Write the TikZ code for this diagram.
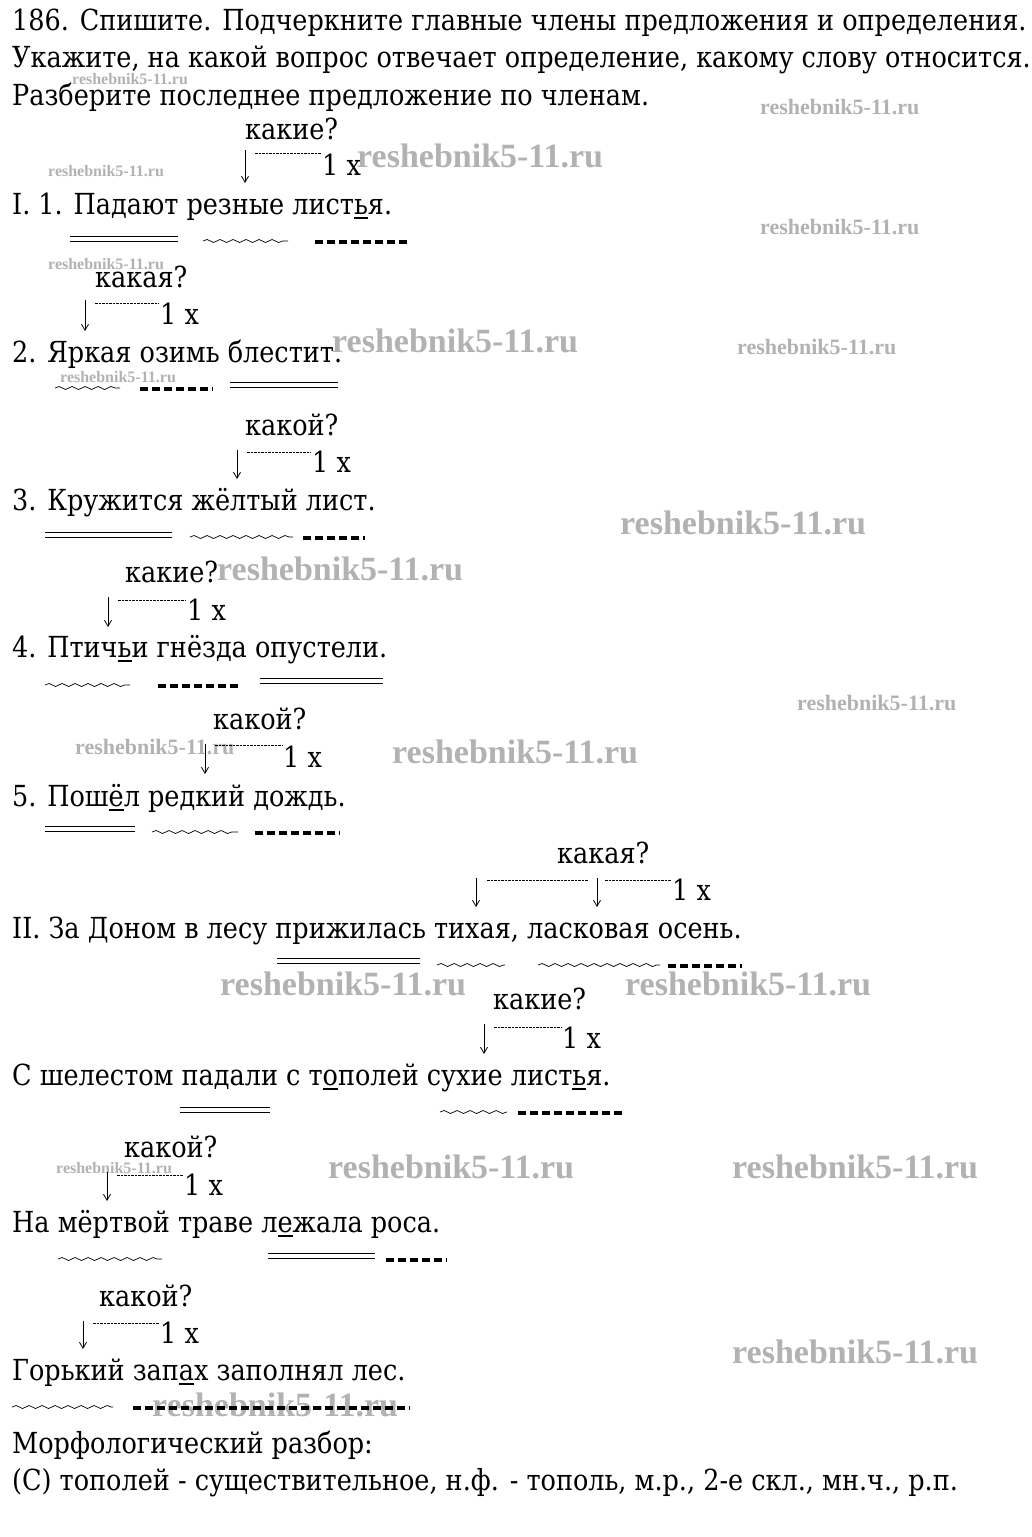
\documentclass[tikz,border=0pt]{standalone}
\usepackage{fontspec}
\setmainfont{DejaVu Serif}[FakeStretch=0.88]
\newfontfamily\wmfont{Liberation Serif}
\usetikzlibrary{decorations.pathmorphing,arrows.meta}
\newcommand\uu[1]{\setbox0\hbox{#1}\rlap{\raisebox{-5pt}{\rule{\wd0}{1.8pt}}}\box0}
\newcommand\mainsz{\fontsize{29}{35}\selectfont}
\tikzset{
  txt/.style={anchor=base west, inner sep=0pt, font=\mainsz},
  dbl/.style={double, double distance=4.5pt, line width=0.7pt},
  wavy/.style={decorate, decoration={snake, segment length=13pt, amplitude=1.5pt}, line width=0.7pt},
  bdash/.style={line width=3.2pt, dash pattern=on 8pt off 4pt},
  tdash/.style={line width=0.7pt, dash pattern=on 2.5pt off 1pt},
  arr/.style={-{Straight Barb[length=6pt,width=7pt]}, line width=0.8pt},
  wmbig/.style={anchor=base west, inner sep=0pt, text=gray!60, font=\wmfont\fontsize{34}{40}\selectfont\bfseries},
  wmsmall/.style={anchor=base west, inner sep=0pt, text=gray!60, font=\wmfont\fontsize{22}{26}\selectfont\bfseries},
  wmtiny/.style={anchor=base west, inner sep=0pt, text=gray!60, font=\wmfont\fontsize{16}{19}\selectfont\bfseries}
}
\begin{document}
\begin{tikzpicture}[x=1pt,y=-1pt]
\useasboundingbox[fill=white] (0,0) rectangle (1032,1537);
% watermarks
\foreach \i/\x/\y in {a/357/167, b/332/352, c/620/534, d/217/580, e/392/763, f/220/995, g/625/995, h/328/1178, k/732/1178, l/732/1363, m/152/1416}
  \node[wmbig] (wb\i) at (\x,\y) {reshebnik5-11.ru};
\foreach \i/\x/\y in {a/760/114, b/760/234, c/737/354, d/797/710, e/75/754}
  \node[wmsmall] (ws\i) at (\x,\y) {reshebnik5-11.ru};
\foreach \i/\x/\y in {a/72/84, b/48/176, c/48/269, d/60/382, e/56/1173}
  \node[wmtiny] (wt\i) at (\x,\y) {reshebnik5-11.ru};
% header
\node[txt] (h1) at (12,30) {186. Спишите. Подчеркните главные члены предложения и определения.};
\node[txt] (h2) at (12,67) {Укажите, на какой вопрос отвечает определение, какому слову относится.};
\node[txt] (h3) at (12,105) {Разберите последнее предложение по членам.};
% sentence 1
\node[txt] (q1) at (245,139) {какие?};
\coordinate (a1t) at (245,150); \coordinate (a1b) at (245,183);
\draw[arr] (a1t) -- (a1b);
\node[txt] (n1) at (322,175) {1 x};
\coordinate (d1s) at (255,153); \coordinate (d1e) at (321,153);
\draw[tdash] (d1s) -- (d1e);
\node[txt] (s1) at (12,214) {I. 1. Падают резные лист\uu{ь}я.};
\draw[dbl] (70,239) -- (178,239);
\draw[wavy] (203,241) -- (288,241);
\draw[bdash] (315,242) -- (407,242);
% sentence 2
\node[txt] (q2) at (95,287) {какая?};
\coordinate (a2t) at (85,300); \coordinate (a2b) at (85,331);
\draw[arr] (a2t) -- (a2b);
\node[txt] (n2) at (160,324) {1 x};
\coordinate (d2s) at (95,303); \coordinate (d2e) at (159,303);
\draw[tdash] (d2s) -- (d2e);
\node[txt] (s2) at (12,362) {2. Яркая озимь блестит.};
\draw[wavy] (55,388) -- (120,388);
\draw[bdash] (140,389) -- (213,389);
\draw[dbl] (230,385) -- (338,385);
% sentence 3
\node[txt] (q3) at (245,435) {какой?};
\coordinate (a3t) at (237,450); \coordinate (a3b) at (237,479);
\draw[arr] (a3t) -- (a3b);
\node[txt] (n3) at (312,472) {1 x};
\coordinate (d3s) at (247,452); \coordinate (d3e) at (311,452);
\draw[tdash] (d3s) -- (d3e);
\node[txt] (s3) at (12,510) {3. Кружится жёлтый лист.};
\draw[dbl] (45,535) -- (172,535);
\draw[wavy] (190,537) -- (293,537);
\draw[bdash] (303,538) -- (365,538);
% sentence 4
\node[txt] (q4) at (125,582) {какие?};
\coordinate (a4t) at (108,597); \coordinate (a4b) at (108,627);
\draw[arr] (a4t) -- (a4b);
\node[txt] (n4) at (187,620) {1 x};
\coordinate (d4s) at (118,600); \coordinate (d4e) at (186,600);
\draw[tdash] (d4s) -- (d4e);
\node[txt] (s4) at (12,657) {4. Птич\uu{ь}и гнёзда опустели.};
\draw[wavy] (45,685) -- (130,685);
\draw[bdash] (158,686) -- (240,686);
\draw[dbl] (260,681) -- (383,681);
% sentence 5
\node[txt] (q5) at (213,729) {какой?};
\coordinate (a5t) at (205,744); \coordinate (a5b) at (205,774);
\draw[arr] (a5t) -- (a5b);
\node[txt] (n5) at (283,767) {1 x};
\coordinate (d5s) at (215,745); \coordinate (d5e) at (282,745);
\draw[tdash] (d5s) -- (d5e);
\node[txt] (s5) at (12,806) {5. Пош\uu{ё}л редкий дождь.};
\draw[dbl] (45,829) -- (135,829);
\draw[wavy] (152,832) -- (238,832);
\draw[bdash] (255,833) -- (340,833);
% II
\node[txt] (q6) at (557,863) {какая?};
\coordinate (a6t) at (476,878); \coordinate (a6b) at (476,907);
\draw[arr] (a6t) -- (a6b);
\coordinate (a7t) at (597,878); \coordinate (a7b) at (597,907);
\draw[arr] (a7t) -- (a7b);
\node[txt] (n6) at (672,900) {1 x};
\coordinate (d6s) at (487,880); \coordinate (d6e) at (588,880);
\draw[tdash] (d6s) -- (d6e);
\coordinate (d7s) at (605,880); \coordinate (d7e) at (671,880);
\draw[tdash] (d7s) -- (d7e);
\node[txt] (s6) at (12,938) {II. За Доном в лесу прижилась тихая, ласковая осень.};
\draw[dbl] (277,961) -- (420,961);
\draw[wavy] (437,965) -- (505,965);
\draw[wavy] (538,965) -- (660,965);
\draw[bdash] (668,966) -- (742,966);
% sentence 7
\node[txt] (q7) at (493,1009) {какие?};
\coordinate (a8t) at (484,1024); \coordinate (a8b) at (484,1054);
\draw[arr] (a8t) -- (a8b);
\node[txt] (n7) at (562,1048) {1 x};
\coordinate (d8s) at (494,1027); \coordinate (d8e) at (561,1027);
\draw[tdash] (d8s) -- (d8e);
\node[txt] (s7) at (12,1085) {С шелестом падали с т\uu{о}полей сухие лист\uu{ь}я.};
\draw[dbl] (180,1110) -- (270,1110);
\draw[wavy] (440,1112) -- (507,1112);
\draw[bdash] (518,1113) -- (622,1113);
% sentence 8
\node[txt] (q8) at (124,1157) {какой?};
\coordinate (a9t) at (107,1172); \coordinate (a9b) at (107,1201);
\draw[arr] (a9t) -- (a9b);
\node[txt] (n8) at (184,1195) {1 x};
\coordinate (d9s) at (117,1175); \coordinate (d9e) at (183,1175);
\draw[tdash] (d9s) -- (d9e);
\node[txt] (s8) at (12,1232) {На мёртвой траве л\uu{е}жала роса.};
\draw[wavy] (58,1259) -- (162,1259);
\draw[dbl] (268,1256) -- (375,1256);
\draw[bdash] (386,1260) -- (447,1260);
% sentence 9
\node[txt] (q9) at (99,1306) {какой?};
\coordinate (a10t) at (83,1321); \coordinate (a10b) at (83,1349);
\draw[arr] (a10t) -- (a10b);
\node[txt] (n9) at (160,1343) {1 x};
\coordinate (d10s) at (93,1323); \coordinate (d10e) at (159,1323);
\draw[tdash] (d10s) -- (d10e);
\node[txt] (s9) at (12,1380) {Горький зап\uu{а}х заполнял лес.};
\draw[wavy] (12,1407) -- (113,1407);
\draw[bdash] (133,1408) -- (410,1408);
% morphology
\node[txt] (m1) at (12,1453) {Морфологический разбор:};
\node[txt] (m2) at (12,1490) {(С) тополей - существительное, н.ф. - тополь, м.р., 2-е скл., мн.ч., р.п.};
\end{tikzpicture}
\end{document}
